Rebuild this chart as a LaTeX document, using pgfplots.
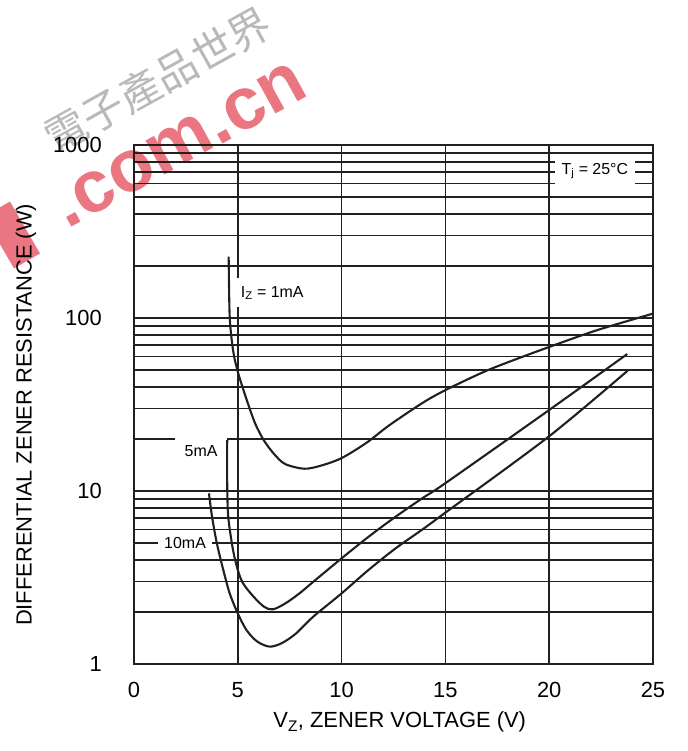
\documentclass[border=0pt]{standalone}
\usepackage{fontspec}
\setmainfont{Liberation Sans}
\newfontfamily\cjk{Noto Sans CJK SC}
\usepackage{pgfplots}
\pgfplotsset{compat=1.18}
\definecolor{ink}{RGB}{35,31,32}
\definecolor{wmred}{RGB}{234,118,130}

\begin{document}
\begin{tikzpicture}
\useasboundingbox (-134bp,-87bp) rectangle (554bp,664bp);
% watermark of the scanned sheet
\node[rotate=29, text=gray!55, font=\cjk\fontsize{42}{42}\selectfont] at (24bp,584bp) {電子產品世界};
\node[rotate=29, text=wmred, font=\bfseries\fontsize{74}{74}\selectfont] at (46bp,519bp) {.com.cn};
\fill[wmred, rotate around={30:(-122bp,429bp)}] (-137bp,399bp) rectangle (-107bp,459bp);

\begin{axis}[
  at={(0,0)}, anchor=south west,
  scale only axis, width=519bp, height=519bp,
  ymode=log, xmin=0, xmax=25, ymin=1, ymax=1000,
  xtick={0,5,...,25}, xticklabels={0,5,10,15,20,25},
  ytick={1,10,100,1000}, yticklabels={1,10,100,1000},
  minor x tick num=0,
  grid=both,
  major grid style={ink, line width=1.7bp},
  minor grid style={ink, line width=1.7bp},
  axis line style={ink, line width=1.7bp},
  major tick length=0pt, minor tick length=0pt,
  tick label style={font=\fontsize{22}{26}\selectfont},
  xticklabel style={anchor=center, yshift=-26bp},
  yticklabel style={anchor=east, inner sep=0pt, xshift=-32bp},
  label style={font=\fontsize{22}{26}\selectfont},
  xlabel={V\textsubscript{Z}, ZENER VOLTAGE (V)},
  ylabel={DIFFERENTIAL ZENER RESISTANCE (W)},
  xlabel style={at={(axis description cs:0.512,-0.112)}, anchor=center},
  ylabel style={at={(axis description cs:-0.208,0.48)}, anchor=center},
]
% label boxes that break the grid
\node[fill=white, inner sep=0pt, minimum width=52bp, minimum height=28bp,
  font=\fontsize{16}{18}\selectfont] at (axis cs:3.23,17.0) {5mA};
\node[fill=white, inner sep=0pt, minimum width=54bp, minimum height=22bp,
  font=\fontsize{16}{18}\selectfont] at (axis cs:2.46,5) {10mA};
\node[fill=white, anchor=west, inner xsep=5bp, inner ysep=0pt, minimum height=29bp,
  font=\fontsize{16}{18}\selectfont] at (axis cs:4.9,139.6) {I\textsubscript{Z} = 1mA};
\node[fill=white, inner sep=0pt, minimum width=80bp, minimum height=26bp,
  font=\fontsize{16}{18}\selectfont] at (axis cs:22.2,707) {T\textsubscript{j} = 25°C};

% IZ = 1 mA
\addplot[ink, line width=2.1bp, smooth, no marks] coordinates {
  (4.56,226) (4.61,102) (4.77,65.3) (5.0,48.9) (5.42,33.9) (5.84,24.5)
  (6.27,19.5) (6.78,16.2) (7.29,14.3) (8.2,13.45) (8.99,14.0) (10.0,15.5)
  (11.2,19.0) (12.3,24.0) (13.9,32.3) (15.0,38.3) (16.8,48.5)
  (18.1,56) (20.0,68) (22.3,85) (25.0,106)
};
% IZ = 5 mA
\addplot[ink, line width=2.1bp, smooth, no marks] coordinates {
  (4.49,19.7) (4.49,11.1) (4.54,7.1) (4.77,4.56) (5.0,3.5) (5.25,2.93)
  (5.76,2.45) (6.27,2.14) (6.69,2.07) (7.29,2.24) (7.97,2.56) (8.64,2.99)
  (10.0,4.08) (11.3,5.44) (12.6,7.1) (13.9,9.1) (15.0,11.1) (20.0,29.4)
  (23.76,61.9)
};
% IZ = 10 mA
\addplot[ink, line width=2.1bp, smooth, no marks] coordinates {
  (3.61,9.7) (3.76,7.1) (3.99,4.99) (4.30,3.5) (4.61,2.56) (5.0,1.96)
  (5.42,1.57) (5.93,1.35) (6.53,1.26) (7.12,1.32) (7.80,1.50) (8.64,1.88)
  (10.0,2.56) (11.3,3.5) (12.6,4.66) (13.9,6.0) (15.0,7.5) (19.97,20.6)
  (23.78,49.6)
};
\end{axis}
\end{tikzpicture}
\end{document}
